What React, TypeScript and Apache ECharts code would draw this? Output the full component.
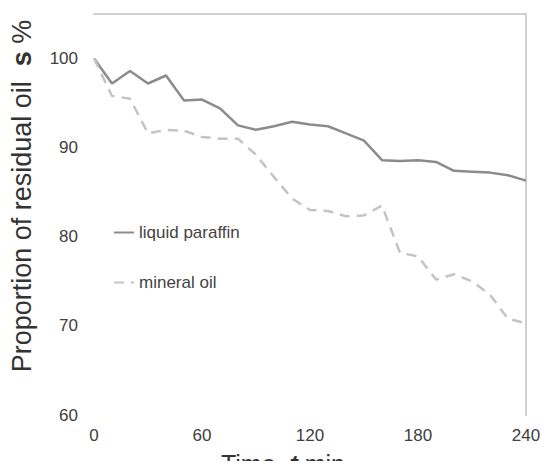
import React, { useEffect, useRef } from "react";
import * as echarts from "echarts";

const times = [0, 10, 20, 30, 40, 50, 60, 70, 80, 90, 100, 110, 120, 130, 140, 150, 160, 170, 180, 190, 200, 210, 220, 230, 240];
const liquidParaffin = [100, 97.2, 98.6, 97.2, 98.1, 95.3, 95.4, 94.4, 92.5, 92.0, 92.4, 92.9, 92.6, 92.4, 91.6, 90.8, 88.6, 88.5, 88.6, 88.4, 87.4, 87.3, 87.2, 86.9, 86.3];
const mineralOil = [100, 95.8, 95.5, 91.6, 92.0, 91.9, 91.2, 91.0, 91.0, 89.2, 86.7, 84.3, 83.0, 82.9, 82.3, 82.4, 83.5, 78.2, 77.8, 75.2, 75.8, 75.0, 73.5, 70.8, 70.3];
const seriesNames = ["liquid paraffin", "mineral oil"];
const xTicks = [0, 60, 120, 180, 240];
const yTicks = [60, 70, 80, 90, 100];

const FONT = "Liberation Sans, Arial, sans-serif";

export default function App() {
  const ref = useRef<HTMLDivElement>(null);
  useEffect(() => {
    if (!ref.current) return;
    const chart = echarts.init(ref.current, null, { renderer: "svg" });
    const axisLineStyle = { color: "#d0d0d0", width: 2 };
    chart.setOption({
      animation: false,
      backgroundColor: "#ffffff",
      grid: { left: 94, right: 23, top: 14, bottom: 54, containLabel: false },
      legend: {
        orient: "vertical",
        left: 108,
        top: 219,
        itemWidth: 20,
        itemHeight: 14,
        itemGap: 33,
        itemStyle: { opacity: 0 },
        textStyle: { fontFamily: FONT, fontSize: 17, color: "#444" },
        data: seriesNames,
      },
      xAxis: [
        {
          type: "value",
          min: 0,
          max: 240,
          interval: 60,
          axisLine: { show: false },
          axisTick: { show: false },
          splitLine: { show: false },
          axisLabel: {
            margin: 12,
            fontFamily: FONT,
            fontSize: 17,
            color: "#404040",
            formatter: (v: number) => (xTicks.includes(v) ? String(v) : ""),
          },
        },
        {
          type: "value",
          position: "top",
          min: 0,
          max: 240,
          axisLine: { show: true, onZero: false, lineStyle: axisLineStyle },
          axisTick: { show: false },
          axisLabel: { show: false },
          splitLine: { show: false },
        },
      ],
      yAxis: [
        {
          type: "value",
          min: 60,
          max: 105,
          interval: 10,
          axisLine: { show: false },
          axisTick: { show: false },
          splitLine: { show: false },
          axisLabel: {
            margin: 16,
            fontFamily: FONT,
            fontSize: 17,
            color: "#404040",
            formatter: (v: number) => (yTicks.includes(v) ? String(v) : ""),
          },
        },
        {
          type: "value",
          position: "right",
          min: 60,
          max: 105,
          axisLine: { show: true, onZero: false, lineStyle: axisLineStyle },
          axisTick: { show: false },
          axisLabel: { show: false },
          splitLine: { show: false },
        },
      ],
      series: [
        {
          name: seriesNames[0],
          type: "line",
          data: times.map((t, i) => [t, liquidParaffin[i]]),
          showSymbol: false,
          symbol: "none",
          lineStyle: { color: "#8c8c8c", width: 2.5 },
          itemStyle: { color: "#8c8c8c" },
        },
        {
          name: seriesNames[1],
          type: "line",
          data: times.map((t, i) => [t, mineralOil[i]]),
          showSymbol: false,
          symbol: "none",
          lineStyle: { color: "#c4c4c4", width: 2.5, type: [10, 7] },
          itemStyle: { color: "#c4c4c4" },
        },
      ],
      graphic: [
        {
          type: "text",
          x: 22,
          y: 196,
          rotation: Math.PI / 2,
          style: {
            text: "Proportion of residual oil  {b|s} %",
            fontFamily: FONT,
            fontSize: 27,
            fill: "#333",
            align: "center",
            verticalAlign: "middle",
            rich: { b: { fontFamily: FONT, fontSize: 27, fontWeight: "bold", fill: "#333" } },
          },
        },
        {
          type: "text",
          x: 283,
          y: 451,
          style: {
            text: "Time  {b|t} min",
            fontFamily: FONT,
            fontSize: 25,
            fill: "#333",
            align: "center",
            verticalAlign: "top",
            rich: { b: { fontFamily: FONT, fontSize: 25, fontWeight: "bold", fontStyle: "italic", fill: "#333" } },
          },
        },
      ],
    });
    return () => chart.dispose();
  }, []);
  return <div ref={ref} style={{ width: 549, height: 469, margin: -8 }} />;
}
